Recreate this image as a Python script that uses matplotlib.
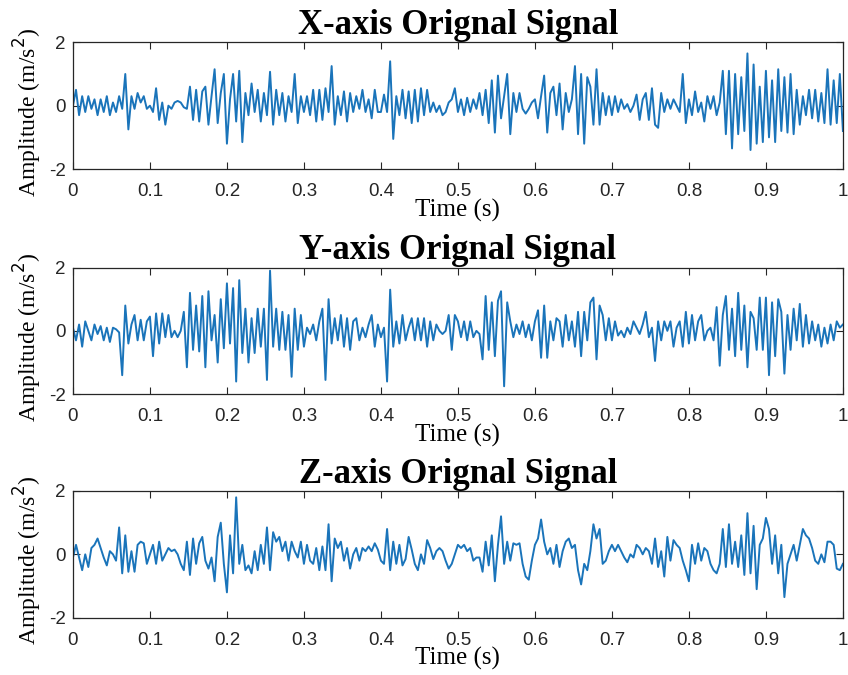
import matplotlib
matplotlib.use("Agg")
import matplotlib.pyplot as plt
import numpy as np

# signal samples, 4 ms apart (one row = 0.1 s)
x_signal = [
    0.0, 0.5, -0.3, 0.3, -0.2, 0.3, -0.1, 0.2, -0.3, 0.2, -0.2, 0.3, -0.3, 0.1, -0.2, 0.3, -0.1, 1.0, -0.75, 0.3, -0.1, 0.4, 0.1, 0.3, -0.1,
    0.0, -0.2, 0.55, -0.45, 0.1, -0.6, 0.0, -0.1, 0.1, 0.15, 0.1, -0.05, -0.1, 0.6, -0.45, 0.5, -0.5, 0.45, 0.6, -0.6, 0.3, 1.15, -0.55, 0.4, 1.0,
    -1.2, 0.2, 1.0, -0.5, 1.1, -1.15, 0.4, -0.3, 0.7, -0.2, 0.5, -0.5, 0.4, -0.3, 1.07, -0.6, 0.5, -0.3, 0.4, -0.5, 0.3, -0.2, 1.0, -0.55, 0.3,
    -0.2, 0.3, -0.3, 0.5, -0.5, 0.5, -0.45, 0.55, -0.2, 1.25, -0.6, 0.3, -0.3, 0.45, -0.5, 0.4, -0.2, 0.3, -0.1, 0.5, -0.2, 0.2, -0.4, 0.5, -0.2,
    -0.2, 0.35, -0.2, 1.4, -1.05, 0.3, -0.3, 0.5, -0.4, 0.45, -0.55, 0.5, -0.5, 0.55, -0.3, 0.5, -0.2, 0.1, -0.2, 0.0, -0.3, -0.2, 0.1, 0.2, 0.55,
    -0.2, 0.2, -0.3, 0.25, -0.2, 0.2, -0.1, 0.4, -0.3, 0.5, -0.55, 0.8, -0.85, 0.95, -0.4, 0.3, 1.0, -0.9, 0.4, -0.2, 0.4, -0.1, -0.25, -0.1, 0.1,
    0.2, -0.4, 0.3, 0.95, -0.85, 0.4, 0.6, -0.3, 0.7, -0.75, 0.4, -0.2, 0.2, 1.25, -0.9, 1.0, -1.2, 0.9, 0.6, -0.6, 1.15, -0.6, 0.4, -0.3, 0.3,
    -0.3, 0.3, -0.2, 0.2, -0.1, 0.05, -0.2, 0.0, 0.35, -0.45, 0.2, 0.4, -0.45, 0.55, -0.6, -0.7, 0.4, -0.2, 0.2, -0.1, 0.2, 0.0, -0.2, 1.0, -0.55,
    0.2, -0.3, 0.45, -0.2, 0.1, -0.5, 0.3, -0.1, 0.3, -0.3, 0.1, 1.1, -0.9, 1.1, -1.35, 1.0, -0.9, 0.9, -0.8, 1.65, -1.4, 1.3, -1.2, 0.6, -1.15,
    1.1, -1.0, 0.8, -1.15, 1.15, -0.8, 0.9, -0.85, 1.0, -0.9, 0.5, -0.6, 0.3, -0.3, 0.5, -0.4, 0.5, -0.5, 0.4, -0.55, 1.15, -0.6, 0.8, -0.55, 1.0, -0.8,
]

y_signal = [
    0.1, -0.3, 0.2, -0.5, 0.3, 0.0, -0.3, 0.2, -0.1, 0.15, -0.3, 0.1, -0.35, 0.1, 0.05, -0.05, -1.4, 0.8, -0.4, 0.2, 0.5, -0.3, 0.35, -0.3, 0.3,
    0.45, -0.8, 0.55, -0.4, 0.55, -0.2, 0.5, -0.2, 0.0, -0.2, 0.0, 0.6, -1.15, 1.2, -0.6, 0.8, -0.65, 1.1, -1.15, 1.25, -0.3, 0.5, -1.0, 1.0, -0.55,
    1.5, -0.4, 1.35, -1.6, 1.6, -0.7, 0.7, -1.0, 0.4, -0.7, 0.7, -0.5, 0.7, -1.55, 1.9, -0.5, 0.7, -0.6, 0.6, -0.6, 0.5, -1.45, 0.7, -0.6, 0.5,
    -0.5, 0.1, -0.1, 0.2, -0.3, 0.3, 0.7, -1.55, 1.0, -0.4, 0.4, -0.3, 0.5, -0.5, 0.4, -0.6, 0.3, 0.4, -0.3, 0.1, -0.2, 0.2, 0.5, -0.5, 0.2,
    -0.2, 0.1, -1.6, 1.3, -0.5, 0.3, -0.4, 0.5, -0.3, 0.1, 0.4, -0.3, 0.4, -0.3, 0.4, -0.5, 0.3, -0.3, 0.2, 0.0, -0.1, 0.0, 0.5, -0.6, 0.5,
    0.3, -0.2, 0.3, -0.3, 0.3, -0.2, 0.0, -0.1, -0.9, 1.1, -0.6, 0.9, -0.8, 0.95, 1.25, -1.75, 0.9, 0.3, -0.2, 0.2, -0.1, 0.3, -0.2, 0.2, -0.3,
    0.3, 0.65, -0.85, 0.8, -0.85, 0.3, -0.3, 0.4, 0.3, -0.5, 0.5, -0.3, 0.3, -0.5, 0.6, -0.8, 0.6, -0.3, 0.9, 1.05, -0.9, 0.8, 0.5, -0.3, 0.4,
    -0.3, 0.3, -0.15, 0.0, -0.2, 0.1, -0.1, 0.3, 0.1, -0.1, 0.2, 0.6, -0.2, 0.1, -0.95, 0.3, -0.3, 0.3, 0.0, 0.3, -0.5, 0.1, 0.3, -0.5, 0.6,
    -0.4, 0.5, -0.3, 0.3, 0.5, -0.3, 0.0, 0.1, -0.3, 0.75, -1.1, 0.5, 1.1, -0.6, 0.7, -0.8, 1.2, -0.6, 0.8, -1.15, 0.6, 0.4, -0.6, 1.05, -0.6,
    1.05, -1.4, 0.9, -0.8, 1.0, 0.6, -1.35, 0.5, -0.6, 0.7, -0.3, 0.85, -0.5, 0.5, -0.4, 0.3, -0.3, 0.2, -0.5, 0.1, -0.4, 0.2, -0.3, 0.3, 0.1, 0.2,
]

z_signal = [
    -0.1, 0.3, -0.1, -0.5, 0.0, -0.4, 0.2, 0.3, 0.5, 0.2, -0.1, -0.35, 0.1, 0.0, -0.2, 0.85, -0.6, 0.6, -0.55, 0.1, -0.55, 0.3, 0.4, 0.35, -0.3,
    0.0, 0.3, -0.3, 0.4, -0.2, 0.0, 0.2, 0.1, 0.15, 0.0, -0.3, -0.5, 0.4, -0.65, 0.5, -0.3, 0.35, 0.55, -0.2, -0.45, -0.1, -0.85, 0.55, 1.0, -0.3,
    -1.2, 0.6, -0.6, 1.8, -0.3, 0.3, -0.5, -0.35, -0.6, 0.1, -0.5, 0.3, -0.3, 0.85, -0.5, 0.7, 0.4, 0.55, 0.1, 0.4, -0.2, 0.4, 0.1, -0.1, 0.4,
    -0.3, 0.3, -0.2, -0.3, 0.2, -0.5, 0.25, -0.5, 0.95, -0.85, 0.5, 0.2, 0.4, -0.2, 0.2, -0.45, 0.0, 0.2, -0.2, 0.2, 0.1, 0.25, 0.1, 0.35, 0.15,
    -0.2, -0.3, 0.8, -0.5, 0.4, -0.3, 0.3, -0.35, -0.15, 0.55, 0.15, -0.3, -0.5, 0.0, -0.3, 0.45, 0.2, -0.15, 0.1, 0.2, 0.1, -0.2, -0.45, -0.3, 0.0,
    0.3, 0.2, 0.3, 0.1, 0.2, -0.2, -0.1, -0.1, -0.55, 0.4, -0.35, 0.6, -0.85, 0.3, 1.2, -0.3, 0.4, -0.2, 0.35, 0.3, 0.35, -0.3, -0.7, -0.8, -0.2,
    0.3, 0.5, 1.1, 0.4, 0.0, 0.2, -0.3, 0.3, -0.4, 0.1, 0.4, 0.5, 0.2, 0.3, -0.5, -0.95, -0.3, -0.5, 0.1, 0.95, 0.5, 0.8, -0.3, -0.2, 0.1,
    0.3, 0.1, 0.3, 0.1, -0.1, -0.25, 0.0, -0.1, 0.3, 0.2, 0.0, 0.2, 0.1, -0.3, 0.5, -0.4, 0.1, -0.7, 0.55, -0.2, 0.45, 0.3, 0.2, -0.2, -0.5,
    -0.85, 0.3, -0.3, 0.35, -0.2, 0.2, 0.1, -0.3, -0.5, -0.6, -0.3, 0.8, -0.4, 0.95, -0.3, 0.4, -0.4, 0.6, -0.65, 1.3, -0.6, 0.9, -1.1, 0.3, 0.5,
    1.15, 0.8, -0.3, 0.6, -0.6, 0.3, -1.35, -0.3, 0.0, 0.3, -0.2, 0.3, 0.8, 0.6, 0.5, 0.2, -0.2, -0.3, 0.0, -0.25, 0.4, 0.4, 0.3, -0.45, -0.5, -0.3,
]

titles = ["X-axis Orignal Signal", "Y-axis Orignal Signal", "Z-axis Orignal Signal"]
signals = [x_signal, y_signal, z_signal]
xticks = [0, 0.1, 0.2, 0.3, 0.4, 0.5, 0.6, 0.7, 0.8, 0.9, 1]
xtick_labels = ["0", "0.1", "0.2", "0.3", "0.4", "0.5", "0.6", "0.7", "0.8", "0.9", "1"]
yticks = [-2, 0, 2]

line_color = "#1A74BA"
serif = "Liberation Serif"
sans = "Liberation Sans"

fig = plt.figure(figsize=(8.48, 6.75), dpi=100)
left, width, height = 0.086, 0.908, 0.1877
bottoms = [0.7496, 0.416, 0.0849]

for sig, title, b in zip(signals, titles, bottoms):
    ax = fig.add_axes([left, b, width, height])
    t = np.linspace(0, 1, len(sig))
    ax.plot(t, sig, color=line_color, lw=1.4)
    ax.set_xlim(0, 1)
    ax.set_ylim(-2, 2)
    ax.set_xticks(xticks)
    ax.set_xticklabels(xtick_labels, family=sans, fontsize=13.5)
    ax.set_yticks(yticks)
    ax.set_yticklabels([str(v) for v in yticks], family=sans, fontsize=13.5)
    ax.tick_params(direction="in", top=True, right=True, length=5, width=0.8,
                   color="#262626", labelcolor="#262626")
    ax.tick_params(axis="x", pad=10)
    ax.tick_params(axis="y", pad=5)
    for s in ax.spines.values():
        s.set_color("#262626")
        s.set_linewidth(0.9)
    ax.set_title(title, family=serif, fontweight="bold", fontsize=25, pad=6)
    ax.set_xlabel("Time (s)", family=serif, fontsize=18, labelpad=-1)
    ax.set_ylabel("Amplitude (m/s$^2$)", family=serif, fontsize=17)
    ax.yaxis.set_label_coords(-0.037, 0.45)

fig.savefig("out.png", dpi=100)
